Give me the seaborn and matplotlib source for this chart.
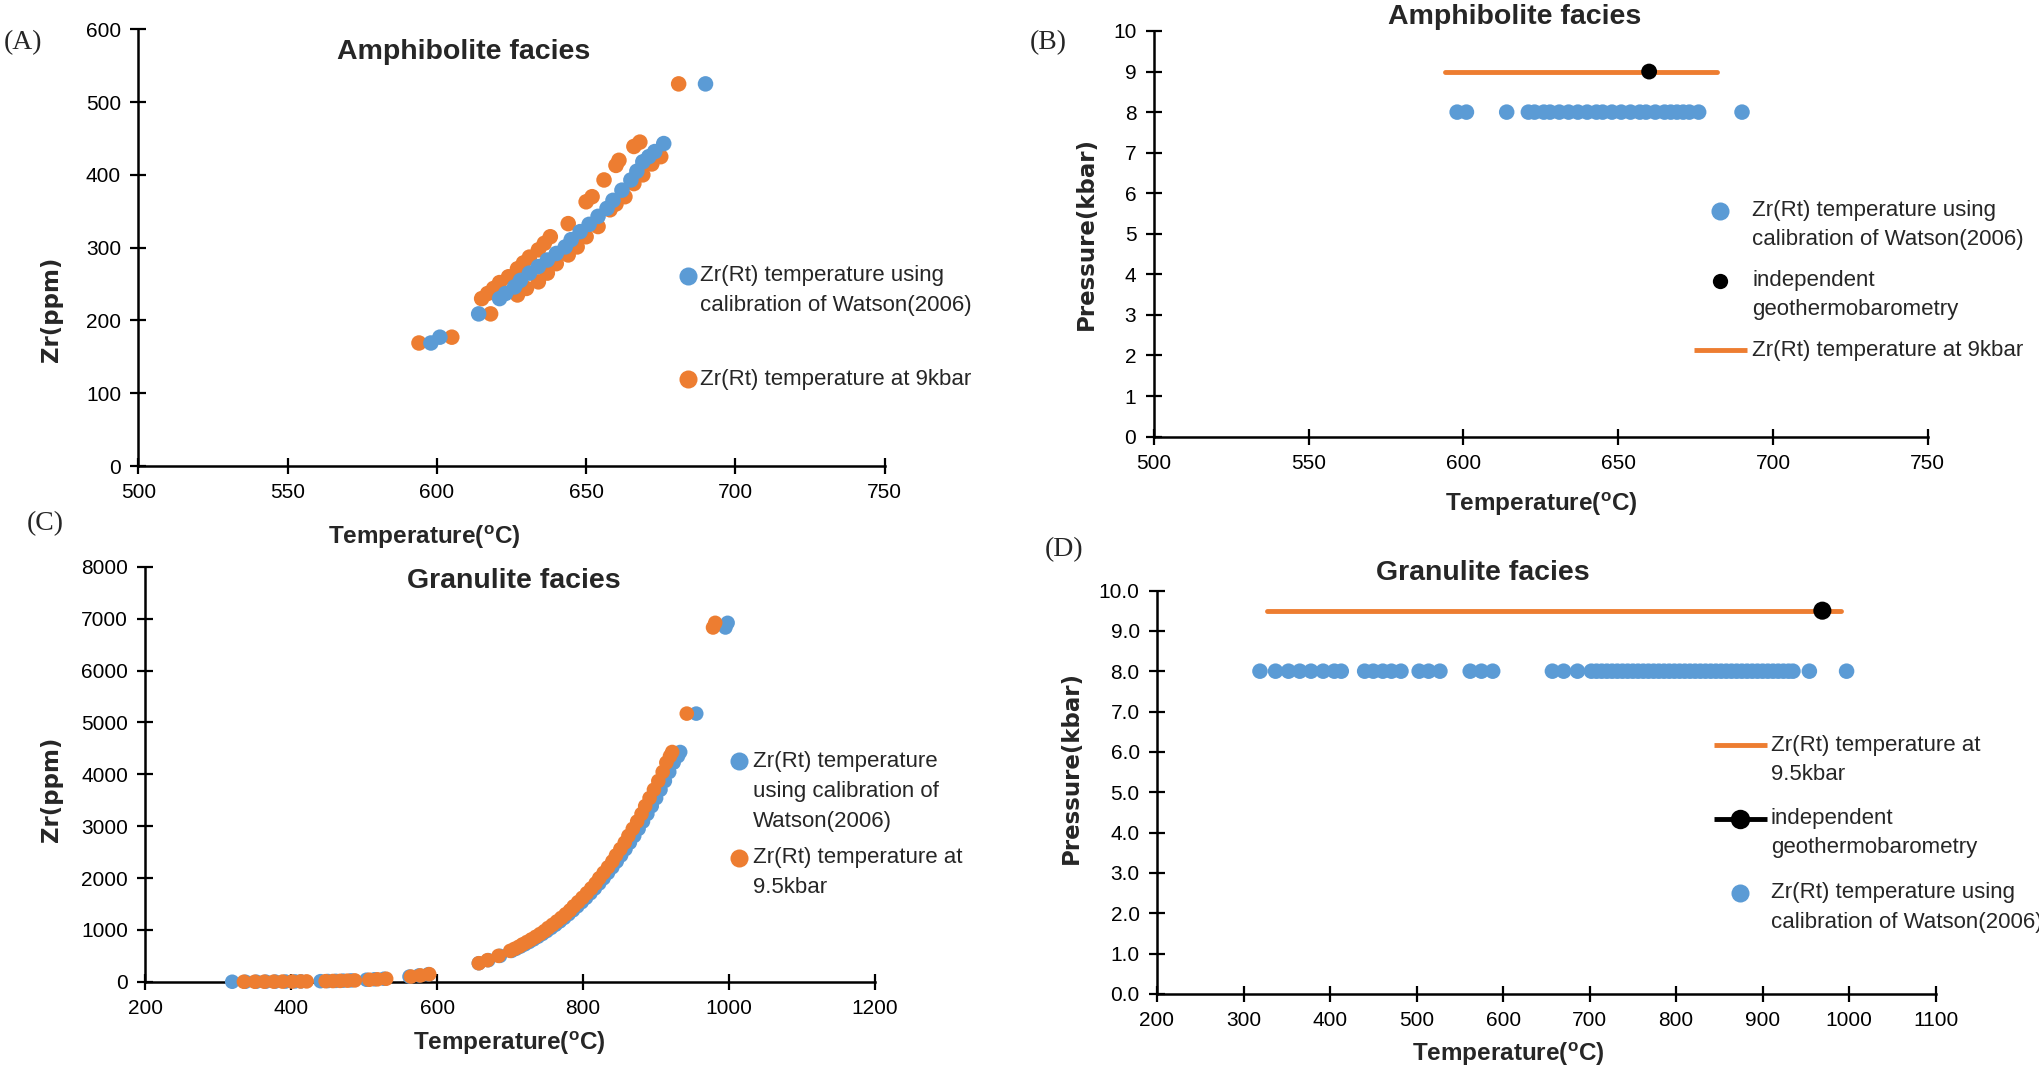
import matplotlib
matplotlib.use("Agg")
import matplotlib.pyplot as plt
from matplotlib import font_manager
from matplotlib.lines import Line2D
import seaborn as sns

# ---------------- data ----------------
# Panel A  (Zr vs temperature, amphibolite facies)
a_watson_T = [598, 601, 614, 621, 623, 626, 628, 631, 634, 637, 640, 643, 645, 648, 651,
              654, 657, 659, 662, 665, 667, 669, 671, 673, 676, 690]
a_watson_zr = [169, 177, 209, 230, 237, 246, 255, 265, 274, 283, 292, 301, 311, 322, 332,
               343, 354, 365, 379, 393, 405, 418, 425, 432, 443, 525]
a_9kbar_T = [594, 605, 618, 615, 617, 619, 621, 624, 627, 629, 631, 634, 636, 638, 644,
             650, 652, 656, 660, 661, 666, 668, 681,
             627, 630, 634, 637, 640, 644, 647, 650, 654, 658, 660, 663, 666, 669, 672, 675]
a_9kbar_zr = [169, 177, 209, 230, 237, 244, 252, 260, 271, 279, 287, 297, 306, 315, 333,
              363, 370, 393, 413, 420, 439, 445, 525,
              235, 244, 253, 265, 278, 290, 301, 315, 329, 352, 360, 370, 388, 400, 415, 425]

# Panel B  (pressure vs temperature, amphibolite facies)
b_watson_P = 8
b_indep_T = [660]
b_indep_P = [9]
b_line_T = [594, 682]
b_line_P = [9, 9]

# Panel C  (Zr vs temperature, granulite facies)
c_watson_T = [319, 337, 352, 365, 378, 392, 405, 413, 440, 450, 461, 471, 482, 503, 514, 527,
              562, 575, 588, 657, 670, 686,
              702, 708, 714, 720, 726, 732, 738, 744, 750, 756, 762, 768, 774, 780, 786, 792,
              798, 804, 810, 816, 822, 828, 834, 840, 846, 852, 858, 864, 870, 876, 882, 888,
              894, 900, 906, 912, 918, 924, 930, 933, 955, 995, 998]
c_watson_zr = [1, 1, 2, 3, 4, 5, 7, 8, 12, 15, 18, 22, 27, 40, 48, 59,
               101, 123, 147, 358, 417, 500,
               596, 636, 678, 722, 768, 817, 868, 922, 978, 1038, 1099, 1164, 1232, 1303, 1377, 1455,
               1536, 1620, 1708, 1800, 1896, 1996, 2100, 2208, 2320, 2437, 2558, 2683, 2813, 2949, 3090, 3236,
               3387, 3542, 3703, 3871, 4045, 4225, 4350, 4430, 5170, 6830, 6920]
c_95kbar_T = [335, 350, 363, 376, 388, 401, 413, 421, 447, 457, 467, 477, 487, 507, 518, 530,
              564, 577, 589, 657, 669, 684,
              700, 706, 712, 717, 723, 729, 735, 741, 747, 752, 758, 764, 770, 776, 782, 787,
              793, 799, 805, 811, 817, 822, 828, 834, 840, 845, 851, 857, 862, 868, 874, 880,
              885, 891, 897, 903, 909, 914, 919, 922, 942, 978, 981]
c_95kbar_zr = c_watson_zr

# Panel D  (pressure vs temperature, granulite facies)
d_watson_T = [319, 337, 352, 365, 378, 392, 405, 413, 440, 450, 461, 471, 482, 503, 514, 527,
              562, 575, 588, 657, 670, 686,
              702, 708, 714, 720, 726, 732, 738, 744, 750, 756, 762, 768, 774, 780, 786, 792,
              798, 804, 810, 816, 822, 828, 834, 840, 846, 852, 858, 864, 870, 876, 882, 888,
              894, 900, 906, 912, 918, 924, 930, 935, 954, 997]
d_watson_P = 8.0
d_indep_T = [969]
d_indep_P = [9.5]
d_line_T = [327, 990]
d_line_P = [9.5, 9.5]

# ---------------- style ----------------
BLUE = "#5B9BD5"
ORANGE = "#ED7D31"

sns.set_theme(style="white")
names = {f.name for f in font_manager.fontManager.ttflist}
NARROW = "Liberation Sans Narrow" if "Liberation Sans Narrow" in names else "Liberation Sans"
plt.rcParams["font.family"] = [NARROW, "DejaVu Sans"]

fig = plt.figure(figsize=(20.39, 10.72), dpi=100)
W, H = 2039.0, 1072.0


def fx(x):
    return x / W


def fy(y):
    return 1 - y / H


def make_axes(x0, y0, x1, y1):
    return fig.add_axes([fx(x0), fy(y1), (x1 - x0) / W, (y1 - y0) / H])


def style_axes(ax, xlim, xticks, ylim, yticks, yfmt=None):
    ax.set_xlim(xlim)
    ax.set_ylim(ylim)
    ax.set_xticks(xticks)
    ax.set_yticks(yticks)
    if yfmt:
        ax.set_yticklabels([yfmt.format(v) for v in yticks])
    for s in ["top", "right"]:
        ax.spines[s].set_visible(False)
    for s in ["left", "bottom"]:
        ax.spines[s].set_color("black")
        ax.spines[s].set_linewidth(1.8)
    ax.tick_params(direction="inout", length=11, width=1.6, pad=7,
                   labelsize=15, colors="black", left=True, bottom=True)
    for lab in ax.get_xticklabels() + ax.get_yticklabels():
        lab.set_family([NARROW, "DejaVu Sans"])
    ax.set_xlabel("")
    ax.set_ylabel("")
    ax.set_facecolor("white")


TITLE = dict(fontsize=20.5, fontweight="bold", family=["Liberation Sans", "DejaVu Sans"],
             ha="center", va="center")
XLAB = dict(fontsize=17.5, fontweight="bold", family=["Liberation Sans", "DejaVu Sans"],
            ha="center", va="center")
YLAB = dict(fontsize=16.5, fontweight="bold", family=["DejaVu Sans"], ha="center",
            va="center", rotation=90)
PANEL = dict(fontsize=20, family=["Liberation Serif", "DejaVu Serif"], ha="center", va="center")
LEG = dict(fontsize=16, family=[NARROW, "DejaVu Sans"], ha="left", va="center")
TEMP_LABEL = r"Temperature($\mathregular{^o}$C)"

MS_A = 125
MS_C = 110


def leg_marker(x, y, color, size=13):
    fig.add_artist(Line2D([fx(x)], [fy(y)], marker="o", markersize=size, color=color,
                          markeredgewidth=0, linestyle="none", transform=fig.transFigure))


def leg_line(x0, x1, y, color, lw=3.5, marker_x=None):
    fig.add_artist(Line2D([fx(x0), fx(x1)], [fy(y), fy(y)], color=color, lw=lw,
                          transform=fig.transFigure, solid_capstyle="butt"))
    if marker_x is not None:
        leg_marker(marker_x, y, color, size=14)


def leg_text(x, y, s):
    fig.text(fx(x), fy(y), s, **LEG)


# ---------------- Panel A ----------------
axA = make_axes(138.4, 29.3, 884.6, 466.0)
sns.scatterplot(x=a_9kbar_T, y=a_9kbar_zr, ax=axA, color=ORANGE, s=MS_A,
                edgecolor="none", legend=False, clip_on=False, zorder=3)
sns.scatterplot(x=a_watson_T, y=a_watson_zr, ax=axA, color=BLUE, s=MS_A,
                edgecolor="none", legend=False, clip_on=False, zorder=4)
style_axes(axA, (500, 750), range(500, 751, 50), (0, 600), range(0, 601, 100))
fig.text(fx(464), fy(52), "Amphibolite facies", **TITLE)
fig.text(fx(424), fy(537), TEMP_LABEL, **XLAB)
fig.text(fx(52), fy(309), "Zr(ppm)", **YLAB)
fig.text(fx(23), fy(43), "(A)", **PANEL)
leg_marker(687.5, 275.7, BLUE)
leg_text(699.6, 275.7, "Zr(Rt) temperature using")
leg_text(699.6, 305.0, "calibration of Watson(2006)")
leg_marker(687.5, 379.0, ORANGE)
leg_text(699.6, 379.0, "Zr(Rt) temperature at 9kbar")

# ---------------- Panel B ----------------
axB = make_axes(1153.7, 31.0, 1927.8, 436.6)
sns.scatterplot(x=a_watson_T, y=[b_watson_P] * len(a_watson_T), ax=axB, color=BLUE,
                s=MS_A, edgecolor="none", legend=False, clip_on=False, zorder=3)
sns.lineplot(x=b_line_T, y=b_line_P, ax=axB, color=ORANGE, lw=3.5, legend=False, zorder=4)
sns.scatterplot(x=b_indep_T, y=b_indep_P, ax=axB, color="black", s=130,
                edgecolor="none", legend=False, clip_on=False, zorder=5)
style_axes(axB, (500, 750), range(500, 751, 50), (0, 10), range(0, 11, 1))
fig.text(fx(1515), fy(17), "Amphibolite facies", **TITLE)
fig.text(fx(1541), fy(504.6), TEMP_LABEL, **XLAB)
fig.text(fx(1086), fy(234), "Pressure(kbar)", **YLAB)
fig.text(fx(1048), fy(43), "(B)", **PANEL)
leg_marker(1720.3, 210.7, BLUE)
leg_text(1752.2, 210.7, "Zr(Rt) temperature using")
leg_text(1752.2, 239.3, "calibration of Watson(2006)")
leg_marker(1720.3, 280.6, "black", size=11)
leg_text(1752.2, 280.6, "independent")
leg_text(1752.2, 309.9, "geothermobarometry")
leg_line(1693.8, 1746.8, 350.2, ORANGE)
leg_text(1752.2, 350.2, "Zr(Rt) temperature at 9kbar")

# ---------------- Panel C ----------------
axC = make_axes(145.4, 566.8, 875.0, 981.8)
sns.scatterplot(x=c_watson_T, y=c_watson_zr, ax=axC, color=BLUE, s=MS_C,
                edgecolor="none", legend=False, clip_on=False, zorder=3)
sns.scatterplot(x=c_95kbar_T, y=c_95kbar_zr, ax=axC, color=ORANGE, s=MS_C,
                edgecolor="none", legend=False, clip_on=False, zorder=4)
style_axes(axC, (200, 1200), range(200, 1201, 200), (0, 8000), range(0, 8001, 1000))
fig.text(fx(513.7), fy(581.3), "Granulite facies", **TITLE)
fig.text(fx(509.8), fy(1043), TEMP_LABEL, **XLAB)
fig.text(fx(52), fy(789), "Zr(ppm)", **YLAB)
fig.text(fx(45.5), fy(524), "(C)", **PANEL)
leg_marker(738.5, 761.1, BLUE)
leg_text(752.6, 761.1, "Zr(Rt) temperature")
leg_text(752.6, 791.0, "using calibration of")
leg_text(752.6, 821.0, "Watson(2006)")
leg_marker(738.5, 857.9, ORANGE)
leg_text(752.6, 857.9, "Zr(Rt) temperature at")
leg_text(752.6, 887.1, "9.5kbar")

# ---------------- Panel D ----------------
axD = make_axes(1157.0, 590.5, 1935.7, 993.9)
sns.scatterplot(x=d_watson_T, y=[d_watson_P] * len(d_watson_T), ax=axD, color=BLUE,
                s=MS_A, edgecolor="none", legend=False, clip_on=False, zorder=3)
sns.lineplot(x=d_line_T, y=d_line_P, ax=axD, color=ORANGE, lw=3.5, legend=False, zorder=4)
sns.scatterplot(x=d_indep_T, y=d_indep_P, ax=axD, color="black", s=170,
                edgecolor="none", legend=False, clip_on=False, zorder=5)
style_axes(axD, (200, 1100), range(200, 1101, 100), (0, 10), [i * 1.0 for i in range(11)],
           yfmt="{:.1f}")
fig.text(fx(1482.5), fy(573.5), "Granulite facies", **TITLE)
fig.text(fx(1508.5), fy(1054.6), TEMP_LABEL, **XLAB)
fig.text(fx(1071.5), fy(767), "Pressure(kbar)", **YLAB)
fig.text(fx(1063.7), fy(550), "(D)", **PANEL)
leg_line(1713.7, 1766.7, 745.0, ORANGE)
leg_text(1770.7, 745.0, "Zr(Rt) temperature at")
leg_text(1770.7, 774.7, "9.5kbar")
leg_line(1713.7, 1766.7, 818.6, "black", marker_x=1740.2)
leg_text(1770.7, 818.6, "independent")
leg_text(1770.7, 848.0, "geothermobarometry")
leg_marker(1740.2, 892.9, BLUE)
leg_text(1770.7, 892.9, "Zr(Rt) temperature using")
leg_text(1770.7, 922.3, "calibration of Watson(2006)")

fig.savefig("out.png", dpi=100, facecolor="white")
